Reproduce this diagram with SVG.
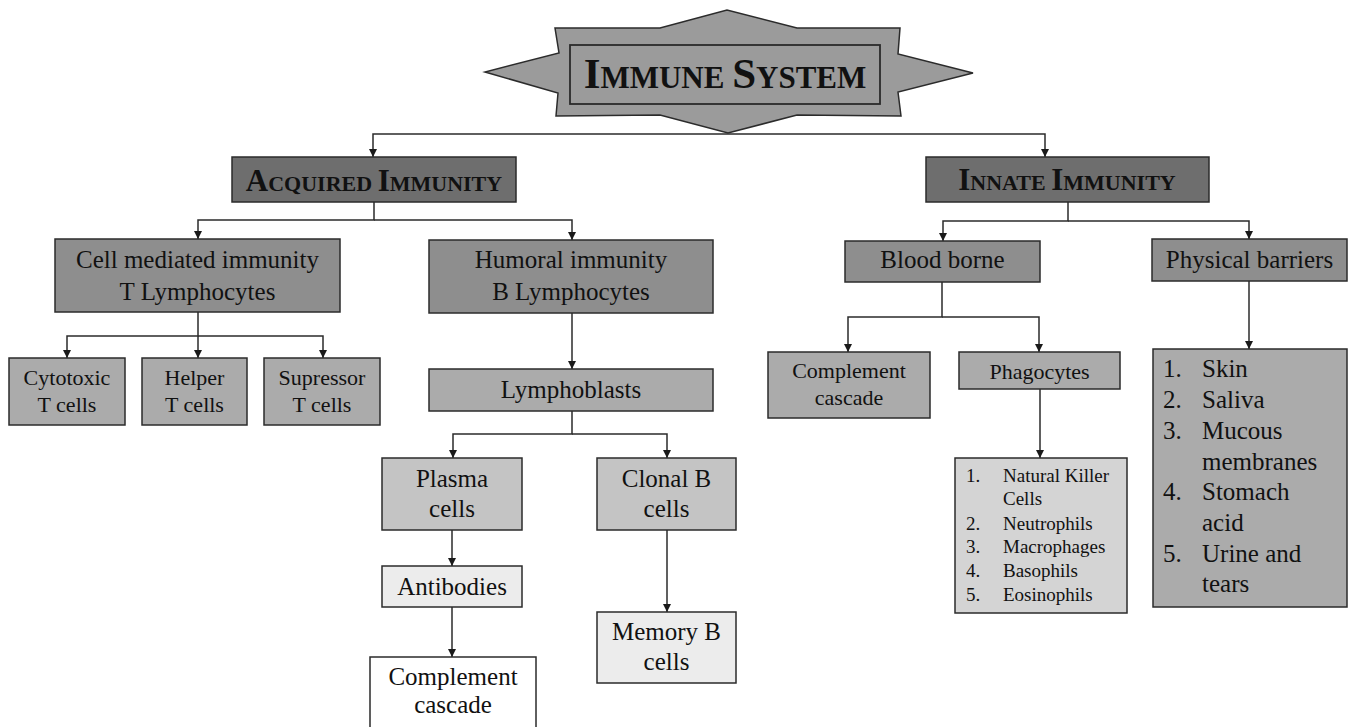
<svg xmlns="http://www.w3.org/2000/svg" width="1349" height="727" viewBox="0 0 1349 727">
<style>
text{font-family:"Liberation Serif","Times New Roman",serif;fill:#111;text-anchor:middle}
.t{font-weight:bold}
.b{stroke:#2b2b2b;stroke-width:1.5}
.d{fill:#6e6e6e}.m{fill:#8e8e8e}.l{fill:#ababab}.p{fill:#c4c4c4}.n{fill:#d4d4d4}.w{fill:#ececec}
.f25{font-size:25px}.f22{font-size:22px}.f19{font-size:19px}
.ls text{text-anchor:start}
#connectors path{fill:none;stroke:#2b2b2b;stroke-width:1.5}
</style>
<defs>
<marker id="ah" viewBox="0 0 10 10" refX="10" refY="5" markerWidth="9" markerHeight="8" markerUnits="userSpaceOnUse" orient="auto">
<path d="M0,0 L10,5 L0,10 z" fill="#1a1a1a"/>
</marker>
</defs>
<rect width="1349" height="727" fill="#fff"/>

<g id="connectors">
<path d="M728,134 H373 V157" marker-end="url(#ah)"/>
<path d="M728,134 H1045 V157" marker-end="url(#ah)"/>
<path d="M374,202 V220 H198 V239" marker-end="url(#ah)"/>
<path d="M374,220 H572 V240" marker-end="url(#ah)"/>
<path d="M198,312 V336 H67 V358" marker-end="url(#ah)"/>
<path d="M198,336 V358" marker-end="url(#ah)"/>
<path d="M198,336 H323 V358" marker-end="url(#ah)"/>
<path d="M572,313 V369" marker-end="url(#ah)"/>
<path d="M572,411 V434 H453 V458" marker-end="url(#ah)"/>
<path d="M572,434 H667 V458" marker-end="url(#ah)"/>
<path d="M452,530 V566" marker-end="url(#ah)"/>
<path d="M452,607 V657" marker-end="url(#ah)"/>
<path d="M667,530 V612" marker-end="url(#ah)"/>
<path d="M1068,202 V221 H943 V241" marker-end="url(#ah)"/>
<path d="M1068,221 H1249 V239" marker-end="url(#ah)"/>
<path d="M942,282 V317 H848 V352" marker-end="url(#ah)"/>
<path d="M942,317 H1039 V352" marker-end="url(#ah)"/>
<path d="M1040,389 V458" marker-end="url(#ah)"/>
<path d="M1249,281 V349" marker-end="url(#ah)"/>
</g>

<g id="immune-system">
<polygon class="b" fill="#9b9b9b" points="555,28 660,28 727,10 797,28 900,28 898,54 973,73 898,92 901,116 797,115 728,133 660,115 556,116 558,93 485,72 559,53"/>
<rect x="570" y="45" width="310" height="59" fill="none" stroke="#2b2b2b" stroke-width="1.8"/>
<text class="t" x="725" y="88"><tspan font-size="43">I</tspan><tspan font-size="31">MMUNE </tspan><tspan font-size="43">S</tspan><tspan font-size="31">YSTEM</tspan></text>
</g>

<g id="acquired">
<rect class="b d" x="232" y="157" width="284" height="45"/>
<text class="t" x="374" y="191"><tspan font-size="31">A</tspan><tspan font-size="22">CQUIRED </tspan><tspan font-size="31">I</tspan><tspan font-size="22">MMUNITY</tspan></text>
</g>

<g id="innate">
<rect class="b d" x="926" y="157" width="283" height="45"/>
<text class="t" x="1067" y="190"><tspan font-size="31">I</tspan><tspan font-size="22">NNATE </tspan><tspan font-size="31">I</tspan><tspan font-size="22">MMUNITY</tspan></text>
</g>

<g id="cell-mediated">
<rect class="b m" x="55" y="239" width="285" height="73"/>
<text class="f25" x="197.5" y="268">Cell mediated immunity</text>
<text class="f25" x="197.5" y="300">T Lymphocytes</text>
</g>

<g id="humoral">
<rect class="b m" x="429" y="240" width="284" height="73"/>
<text class="f25" x="571" y="268">Humoral immunity</text>
<text class="f25" x="571" y="300">B Lymphocytes</text>
</g>

<g id="cytotoxic">
<rect class="b l" x="9" y="358" width="116" height="67"/>
<text class="f22" x="67" y="385">Cytotoxic</text>
<text class="f22" x="67" y="412">T cells</text>
</g>
<g id="helper">
<rect class="b l" x="142" y="358" width="105" height="67"/>
<text class="f22" x="194.5" y="385">Helper</text>
<text class="f22" x="194.5" y="412">T cells</text>
</g>
<g id="supressor">
<rect class="b l" x="264" y="358" width="116" height="67"/>
<text class="f22" x="322" y="385">Supressor</text>
<text class="f22" x="322" y="412">T cells</text>
</g>

<g id="lymphoblasts">
<rect class="b l" x="429" y="369" width="284" height="42"/>
<text class="f25" x="571" y="398">Lymphoblasts</text>
</g>

<g id="plasma">
<rect class="b p" x="382" y="458" width="140" height="72"/>
<text class="f25" x="452" y="487">Plasma</text>
<text class="f25" x="452" y="517">cells</text>
</g>
<g id="clonal">
<rect class="b p" x="597" y="458" width="139" height="72"/>
<text class="f25" x="666.5" y="487">Clonal B</text>
<text class="f25" x="666.5" y="517">cells</text>
</g>
<g id="antibodies">
<rect class="b w" x="382" y="566" width="140" height="41"/>
<text class="f25" x="452" y="595">Antibodies</text>
</g>
<g id="complement-acquired">
<rect class="b" fill="#fff" x="370" y="657" width="166" height="75"/>
<text class="f25" x="453" y="685">Complement</text>
<text class="f25" x="453" y="713">cascade</text>
</g>
<g id="memory">
<rect class="b w" x="597" y="612" width="139" height="71"/>
<text class="f25" x="666.5" y="640">Memory B</text>
<text class="f25" x="666.5" y="670">cells</text>
</g>

<g id="blood-borne">
<rect class="b m" x="845" y="241" width="195" height="41"/>
<text class="f25" x="942.5" y="268">Blood borne</text>
</g>
<g id="physical-barriers">
<rect class="b m" x="1152" y="239" width="195" height="42"/>
<text class="f25" x="1249.5" y="268">Physical barriers</text>
</g>
<g id="complement-innate">
<rect class="b l" x="768" y="352" width="162" height="66"/>
<text class="f22" x="849" y="378">Complement</text>
<text class="f22" x="849" y="405">cascade</text>
</g>
<g id="phagocytes">
<rect class="b l" x="959" y="352" width="161" height="37"/>
<text class="f22" x="1039.5" y="379">Phagocytes</text>
</g>

<g id="phagocyte-list" class="ls">
<rect class="b n" x="955" y="458" width="172" height="155"/>
<text class="f19" x="966" y="482">1.</text><text class="f19" x="1003" y="482">Natural Killer</text>
<text class="f19" x="1003" y="505">Cells</text>
<text class="f19" x="966" y="530">2.</text><text class="f19" x="1003" y="530">Neutrophils</text>
<text class="f19" x="966" y="553">3.</text><text class="f19" x="1003" y="553">Macrophages</text>
<text class="f19" x="966" y="577">4.</text><text class="f19" x="1003" y="577">Basophils</text>
<text class="f19" x="966" y="601">5.</text><text class="f19" x="1003" y="601">Eosinophils</text>
</g>

<g id="barrier-list" class="ls">
<rect class="b l" x="1153" y="349" width="194" height="258"/>
<text class="f25" x="1163" y="377">1.</text><text class="f25" x="1202" y="377">Skin</text>
<text class="f25" x="1163" y="408">2.</text><text class="f25" x="1202" y="408">Saliva</text>
<text class="f25" x="1163" y="439">3.</text><text class="f25" x="1202" y="439">Mucous</text>
<text class="f25" x="1202" y="470">membranes</text>
<text class="f25" x="1163" y="500">4.</text><text class="f25" x="1202" y="500">Stomach</text>
<text class="f25" x="1202" y="531">acid</text>
<text class="f25" x="1163" y="562">5.</text><text class="f25" x="1202" y="562">Urine and</text>
<text class="f25" x="1202" y="592">tears</text>
</g>
</svg>
